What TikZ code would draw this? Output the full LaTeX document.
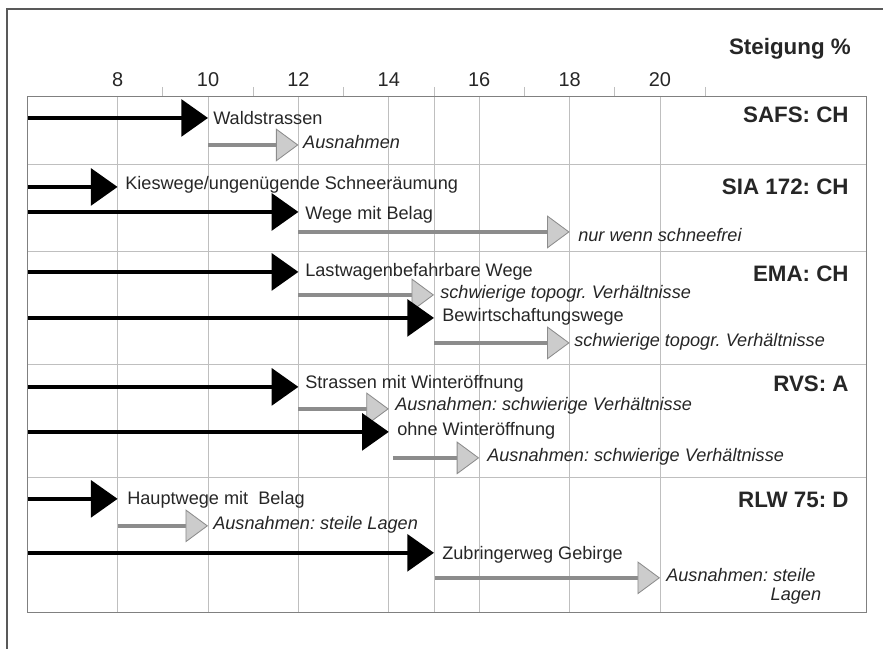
\documentclass[tikz,border=0pt]{standalone}
\usepackage{fontspec}
\setmainfont{Liberation Sans}
\usetikzlibrary{arrows.meta}
\frenchspacing
\begin{document}
\begin{tikzpicture}[x=1.13cm,y=-0.025cm,
    blk/.style={line width=3.2pt,black,-{Triangle[length=19pt,width=26pt]}},
    gry/.style={line width=3.2pt,black!45,-{Triangle[length=16pt,width=23.5pt,fill=black!20,color=black!45,line width=0.6pt]}},
    lbl/.style={anchor=base west,inner sep=0pt,text=black!85,font=\fontsize{12.9}{15}\selectfont},
    note/.style={lbl,font=\fontsize{12.9}{15}\selectfont\itshape},
    std/.style={anchor=base east,inner sep=0pt,text=black!85,font=\fontsize{15.9}{18}\selectfont\bfseries},
    tick/.style={anchor=base,inner sep=0pt,text=black!85,font=\fontsize{14.2}{17}\selectfont},
    grid/.style={black!25,line width=0.5pt}]
      \useasboundingbox (5.398,0) rectangle (24.934,649);

      % frame and grid
      \draw[black!65,line width=1pt] (5.553,649) -- (5.553,9) -- (24.934,9);
      \foreach \v in {8,10,12,14,15,16,18,20} \draw[grid] (\v,96) -- (\v,613);
      \foreach \v in {9,11,...,21} \draw[grid] (\v,87) -- (\v,96);
      \foreach \y in {164,251,364,477} \draw[grid] (6,\y) -- (24.557,\y);
      \draw[black!50,line width=0.6pt] (6,96) rectangle (24.557,613);
      \foreach \v in {8,10,...,20} \node[tick] (t\v) at (\v,87) {\v};
      \node[std] (steig) at (24.226,55) {Steigung \%};

      % SAFS
      \draw[blk] (6.02,118) -- (10,118);
      \node[lbl] (wald) at (10.11,125) {Waldstrassen};
      \draw[gry] (10,145) -- (12,145);
      \node[note] (waldx) at (12.10,149) {Ausnahmen};
      \node[std] (safs) at (24.18,123) {SAFS: CH};

      % SIA
      \draw[blk] (6.02,187) -- (8,187);
      \node[lbl] (kies) at (8.164,190) {Kieswege/ungenügende Schneeräumung};
      \draw[blk] (6.02,212) -- (12,212);
      \node[lbl] (belag) at (12.146,220) {Wege mit Belag};
      \draw[gry] (12,232) -- (18,232);
      \node[note] (belagx) at (18.186,242) {nur wenn schneefrei};
      \node[std] (sia) at (24.18,195) {SIA 172: CH};

      % EMA
      \draw[blk] (6.02,272) -- (12,272);
      \node[lbl] (last) at (12.146,277) {Lastwagenbefahrbare Wege};
      \draw[gry] (12,295) -- (15,295);
      \node[note] (lastx) at (15.133,299) {schwierige topogr. Verhältnisse};
      \draw[blk] (6.02,318) -- (15,318);
      \node[lbl] (bew) at (15.177,322) {Bewirtschaftungswege};
      \draw[gry] (15,343) -- (18,343);
      \node[note] (bewx) at (18.097,347) {schwierige topogr. Verhältnisse};
      \node[std] (ema) at (24.18,282) {EMA: CH};

      % RVS
      \draw[blk] (6.02,387) -- (12,387);
      \node[lbl] (winter) at (12.146,389) {Strassen mit Winteröffnung};
      \draw[gry] (12,409) -- (14,409);
      \node[note] (winterx) at (14.137,411) {Ausnahmen: schwierige Verhältnisse};
      \draw[blk] (6.02,432) -- (14,432);
      \node[lbl] (ohne) at (14.181,436) {ohne Winteröffnung};
      \draw[gry] (14.09,458) -- (16,458);
      \node[note] (ohnex) at (16.173,462) {Ausnahmen: schwierige Verhältnisse};
      \node[std] (rvs) at (24.18,392) {RVS: A};

      % RLW
      \draw[blk] (6.02,499) -- (8,499);
      \node[lbl] (haupt) at (8.208,505) {Hauptwege mit\ \ Belag};
      \draw[gry] (8,526) -- (10,526);
      \node[note] (hauptx) at (10.11,530) {Ausnahmen: steile Lagen};
      \draw[blk] (6.02,553) -- (15,553);
      \node[lbl] (zub) at (15.177,560) {Zubringerweg Gebirge};
      \draw[gry] (15.02,578) -- (20,578);
      \node[note] (zubx) at (20.133,582) {Ausnahmen: steile};
      \node[note,anchor=base east] (lagen) at ([xshift=4pt,yshift=-13.5pt]zubx.base east) {Lagen};
      \node[std] (rlw) at (24.18,508) {RLW 75: D};
\end{tikzpicture}
\end{document}
